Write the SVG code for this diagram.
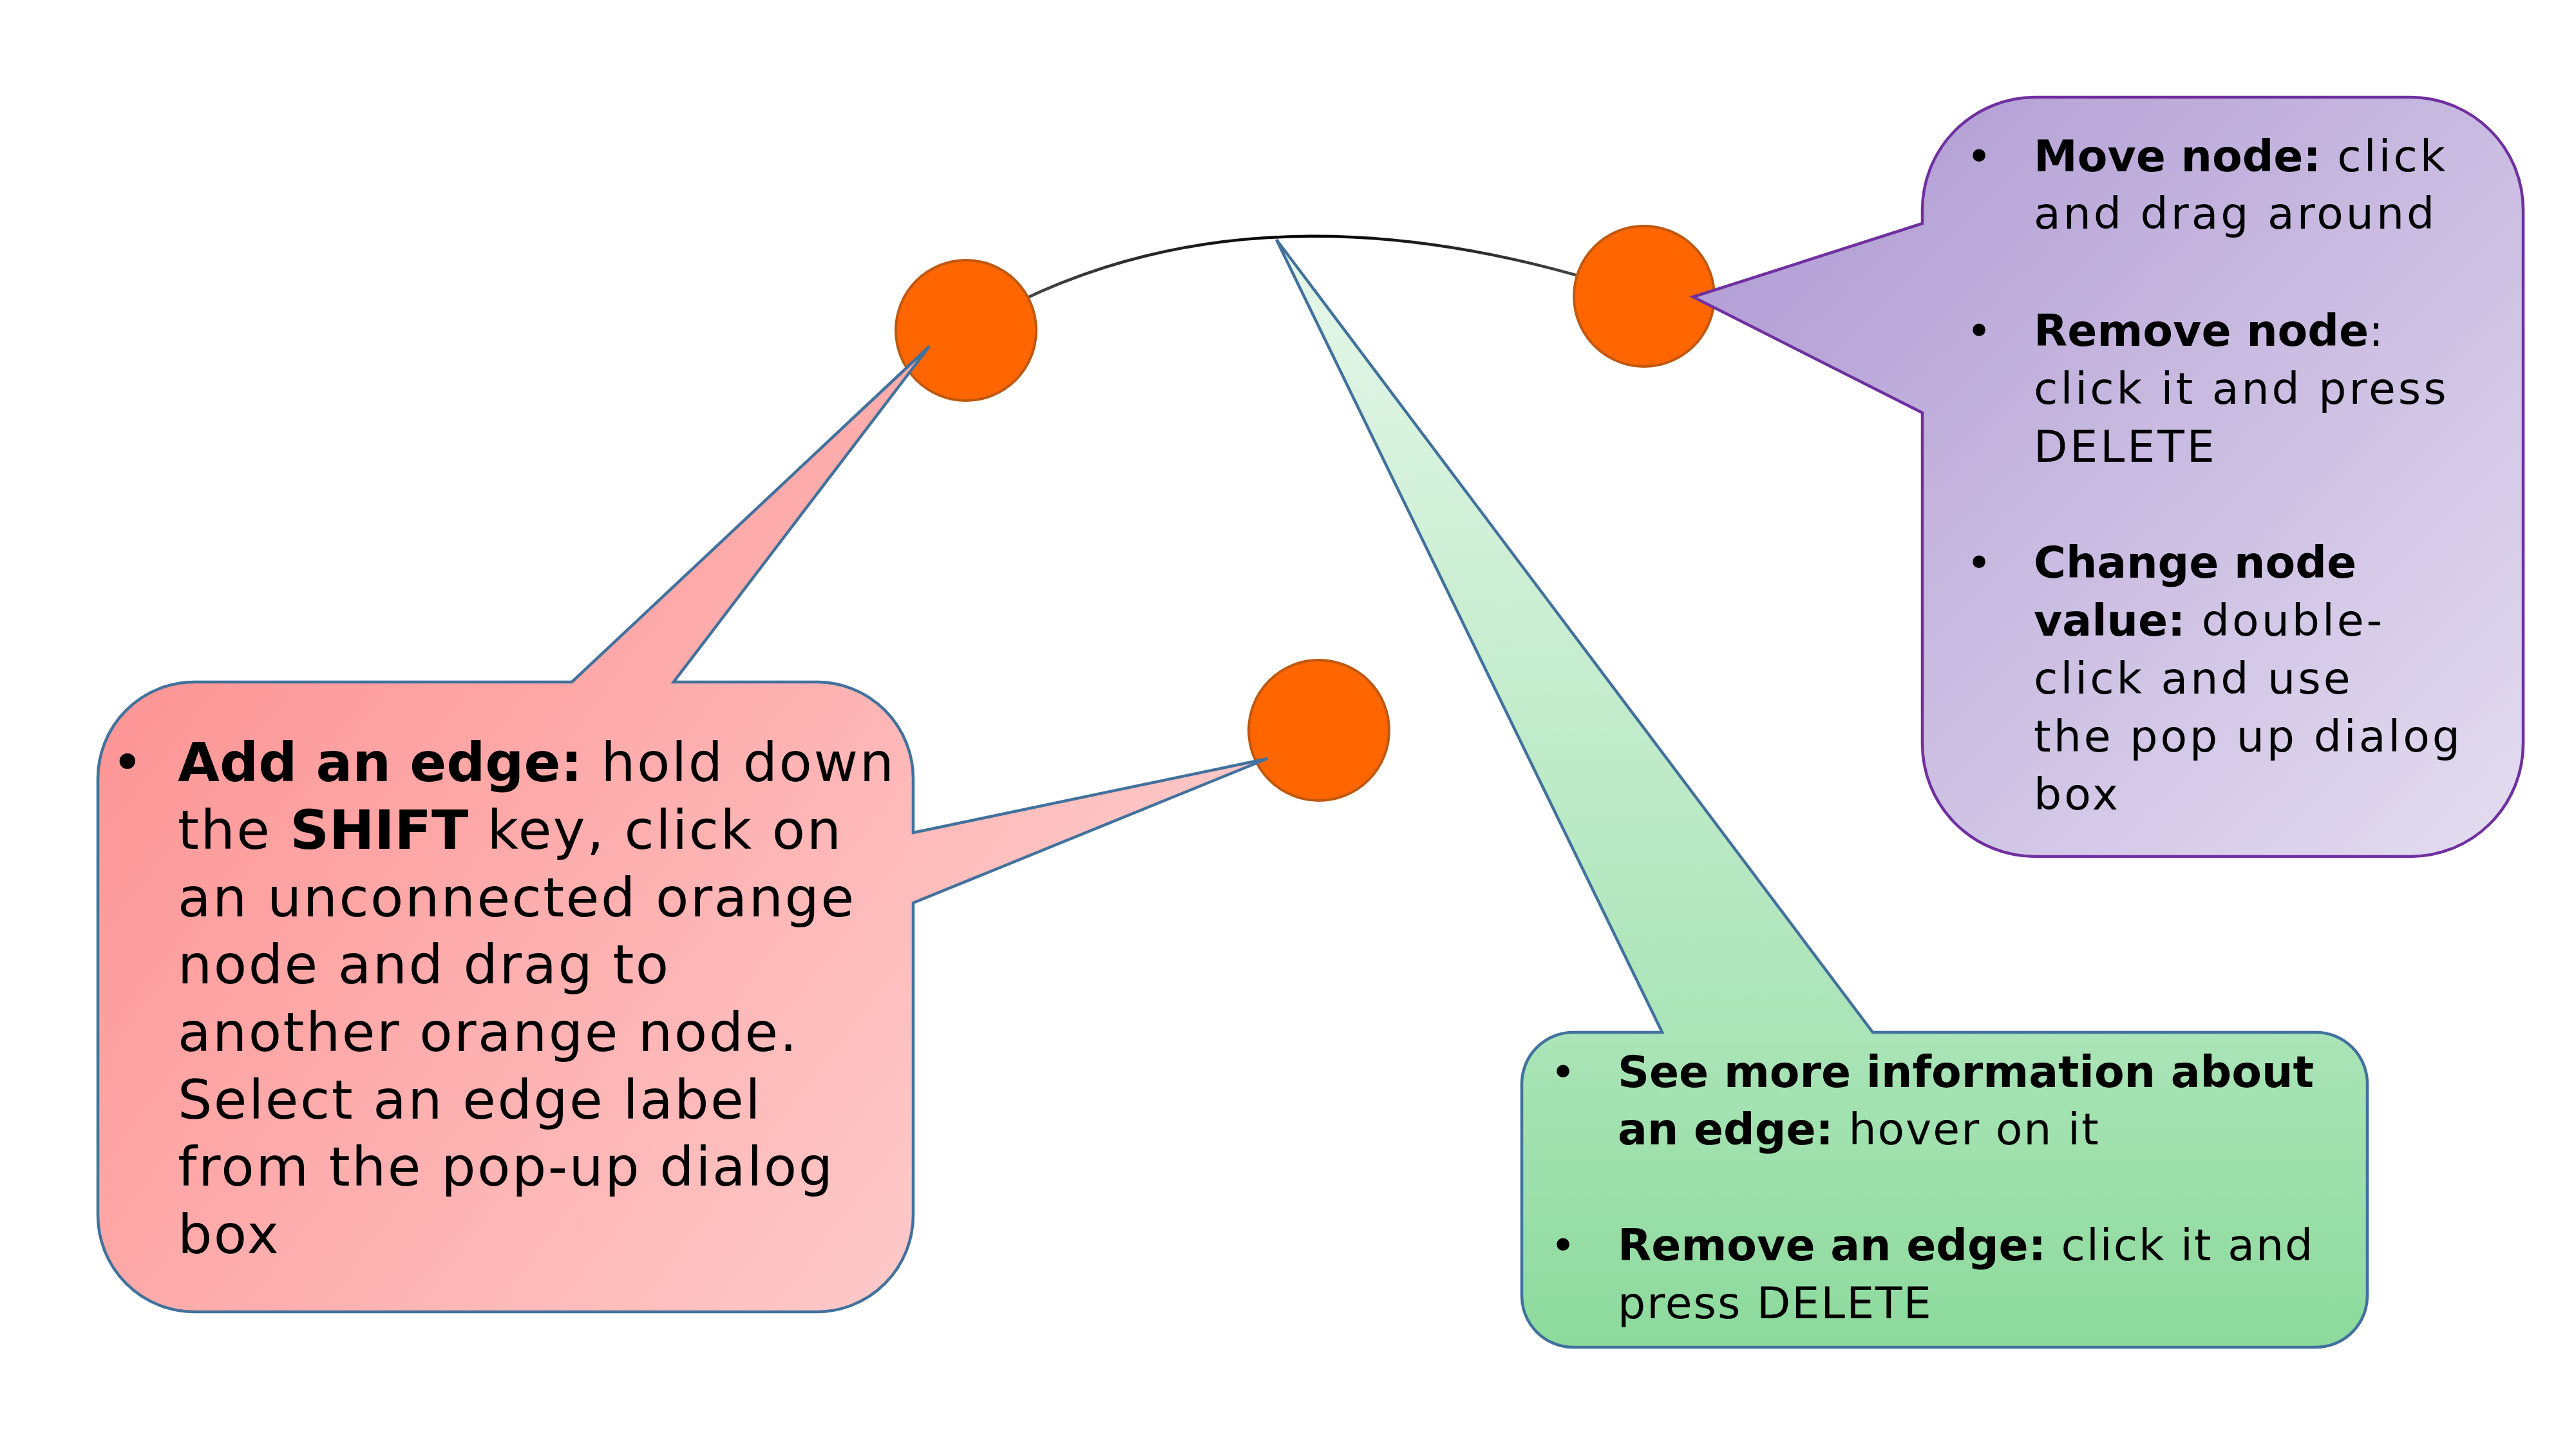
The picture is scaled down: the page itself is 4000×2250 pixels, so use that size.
<svg xmlns="http://www.w3.org/2000/svg" width="4000" height="2250" viewBox="0 0 4000 2250">
<defs>
<style>
.t{font-family:"DejaVu Sans","Liberation Sans",sans-serif;fill:#000}
.p{font-size:84px}
.s{font-size:68px}
.b{font-weight:bold}
.rp{letter-spacing:2.5px}
.rs{letter-spacing:4px}
.rg{letter-spacing:2px}
.node{fill:#ff6600;stroke:#c0580f;stroke-width:4}
.callout{stroke-width:4.5;stroke-linejoin:miter}
</style>
<linearGradient id="gPink" gradientUnits="userSpaceOnUse" x1="152" y1="1059" x2="1418" y2="2037">
<stop offset="0" stop-color="#fd9494"/>
<stop offset="1" stop-color="#fecaca"/>
</linearGradient>
<linearGradient id="gGreen" gradientUnits="userSpaceOnUse" x1="0" y1="372" x2="0" y2="2092">
<stop offset="0" stop-color="#e6f7ea"/>
<stop offset="0.72" stop-color="#aae4b7"/>
<stop offset="1" stop-color="#8cda9c"/>
</linearGradient>
<linearGradient id="gPurple" gradientUnits="userSpaceOnUse" x1="2800" y1="200" x2="3918" y2="1330">
<stop offset="0" stop-color="#b19dd4"/>
<stop offset="1" stop-color="#e4ddf0"/>
</linearGradient>
<linearGradient id="gEdge" gradientUnits="userSpaceOnUse" x1="1500" y1="0" x2="2553" y2="0">
<stop offset="0" stop-color="#555"/>
<stop offset="0.5" stop-color="#000"/>
<stop offset="1" stop-color="#555"/>
</linearGradient>
</defs>
<rect x="0" y="0" width="4000" height="2250" fill="#fff"/>

<g id="connectors">
<path d="M1500,513 Q1935,250 2553,460" fill="none" stroke="url(#gEdge)" stroke-width="4.5"/>
</g>

<g id="node1"><circle class="node" cx="1500" cy="513" r="109"/></g>
<g id="node2"><circle class="node" cx="2553" cy="460" r="109"/></g>
<g id="node3"><circle class="node" cx="2048" cy="1134" r="109"/></g>

<g id="callout-add-edge">
<path class="callout" fill="url(#gPink)" stroke="#41719c" d="M302,1059 L888,1059 L1443,538 L1046,1059 L1268,1059 A150,150 0 0 1 1418,1209 L1418,1293 L1968,1178 L1418,1402 L1418,1887 A150,150 0 0 1 1268,2037 L302,2037 A150,150 0 0 1 152,1887 L152,1209 A150,150 0 0 1 302,1059 Z"/>
<text class="t p" x="173" y="1213">•</text>
<text class="t p" x="276" y="1213"><tspan class="b">Add an edge:</tspan><tspan class="rp"> hold down</tspan></text>
<text class="t p" x="276" y="1318"><tspan class="rp">the </tspan><tspan class="b">SHIFT</tspan><tspan class="rp"> key, click on</tspan></text>
<text class="t p rp" x="276" y="1423">an unconnected orange</text>
<text class="t p rp" x="276" y="1527">node and drag to</text>
<text class="t p rp" x="276" y="1632">another orange node.</text>
<text class="t p rp" x="276" y="1737">Select an edge label</text>
<text class="t p rp" x="276" y="1841">from the pop-up dialog</text>
<text class="t p rp" x="276" y="1946">box</text>
</g>

<g id="callout-edge-info">
<path class="callout" fill="url(#gGreen)" stroke="#41719c" d="M2443,1603 L2581,1603 L1982,372 L2908,1603 L3596,1603 A80,80 0 0 1 3676,1683 L3676,2012 A80,80 0 0 1 3596,2092 L2443,2092 A80,80 0 0 1 2363,2012 L2363,1683 A80,80 0 0 1 2443,1603 Z"/>
<text class="t s" x="2407" y="1688">•</text>
<text class="t s b" x="2512" y="1688">See more information about</text>
<text class="t s" x="2512" y="1777"><tspan class="b">an edge:</tspan><tspan class="rg"> hover on it</tspan></text>
<text class="t s" x="2407" y="1957">•</text>
<text class="t s" x="2512" y="1957"><tspan class="b">Remove an edge:</tspan><tspan class="rg"> click it and</tspan></text>
<text class="t s rg" x="2512" y="2047">press DELETE</text>
</g>

<g id="callout-node-actions">
<path class="callout" fill="url(#gPurple)" stroke="#7030a0" d="M3160,151 L3743,151 A175,175 0 0 1 3918,326 L3918,1155 A175,175 0 0 1 3743,1330 L3160,1330 A175,175 0 0 1 2985,1155 L2985,641 L2629,461 L2985,347 L2985,326 A175,175 0 0 1 3160,151 Z"/>
<text class="t s" x="3053" y="266">•</text>
<text class="t s" x="3158" y="266"><tspan class="b">Move node:</tspan><tspan class="rs"> click</tspan></text>
<text class="t s rs" x="3158" y="355">and drag around</text>
<text class="t s" x="3053" y="537">•</text>
<text class="t s" x="3158" y="537"><tspan class="b">Remove node</tspan><tspan class="rs">:</tspan></text>
<text class="t s rs" x="3158" y="627">click it and press</text>
<text class="t s rs" x="3158" y="717">DELETE</text>
<text class="t s" x="3053" y="897">•</text>
<text class="t s b" x="3158" y="897">Change node</text>
<text class="t s" x="3158" y="987"><tspan class="b">value:</tspan><tspan class="rs"> double-</tspan></text>
<text class="t s rs" x="3158" y="1077">click and use</text>
<text class="t s rs" x="3158" y="1167">the pop up dialog</text>
<text class="t s rs" x="3158" y="1257">box</text>
</g>
</svg>
